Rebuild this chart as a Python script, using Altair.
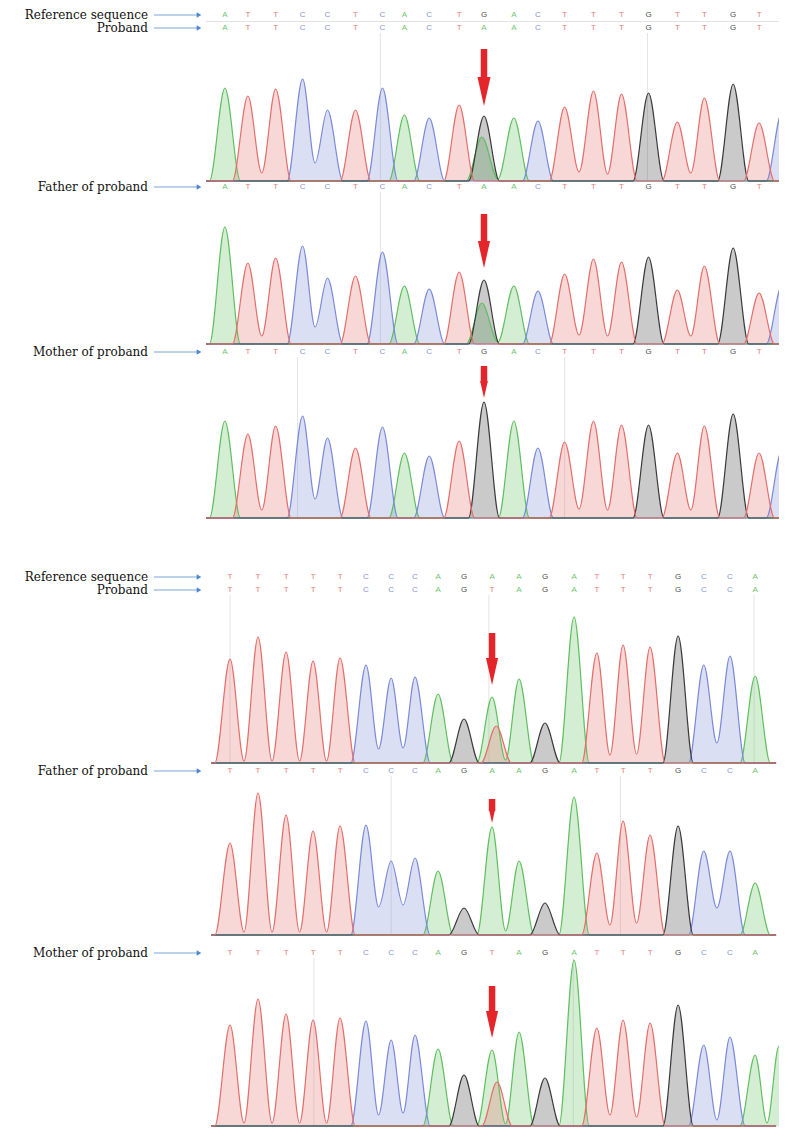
import altair as alt
import pandas as pd

# ---------------- data ----------------
BASES = ["A", "C", "G", "T"]

# called sequences (letter rows)
TOP_REF = list("ATTCCTCACTGACTTTGTTGT")
TOP_PROBAND = list("ATTCCTCACTAACTTTGTTGT")
TOP_FATHER = list("ATTCCTCACTAACTTTGTTGT")
TOP_MOTHER = list("ATTCCTCACTGACTTTGTTGT")
BOT_REF = list("TTTTTCCCAGAAGATTTGCCA")
BOT_PROBAND = list("TTTTTCCCAGTAGATTTGCCA")
BOT_FATHER = list("TTTTTCCCAGAAGATTTGCCA")
BOT_MOTHER = list("TTTTTCCCAGTAGATTTGCCA")

# dye of the main peak at each position
TOP_TRACE = list("ATTCCTCACTGACTTTGTTGT")
BOT_TRACE = list("TTTTTCCCAGAAGATTTGCCA")

# peak locations (scan units, one unit ~ one base)
TOP_POS = [1.0, 1.86, 2.9, 3.91, 4.84, 5.89, 6.9, 7.72, 8.65, 9.77, 10.7,
           11.82, 12.72, 13.72, 14.8, 15.85, 16.86, 17.94, 18.95, 20.03, 21.0]
BOT_POS = [1.0, 2.07, 3.14, 4.17, 5.2, 6.19, 7.15, 8.06, 8.94, 9.93, 11.0,
           12.03, 13.02, 14.13, 15.0, 16.0, 17.03, 18.1, 19.08, 20.08, 21.04]

# main peak heights
P1_H = [93, 85, 92, 102, 71, 71, 93, 66, 63, 76, 65, 63, 60, 74, 90, 87, 88, 59, 83, 97, 58]
P2_H = [117, 81, 86, 98, 66, 68, 92, 58, 55, 72, 64, 58, 53, 70, 85, 82, 87, 54, 78, 96, 51]
P3_H = [97, 84, 92, 102, 80, 70, 91, 65, 62, 77, 116, 97, 70, 76, 97, 93, 93, 65, 92, 104, 65]
P4_H = [104, 126, 111, 102, 105, 98, 85, 86, 69, 44, 66, 84, 40, 146, 110, 118, 116, 127, 98, 107, 87]
P5_H = [92, 142, 120, 104, 109, 110, 74, 77, 64, 27, 108, 74, 32, 138, 82, 114, 100, 109, 84, 84, 52]
P6_H = [101, 127, 112, 106, 108, 105, 86, 91, 77, 51, 76, 94, 48, 166, 98, 106, 103, 121, 81, 89, 71]

# secondary / edge peaks: (dye, location, height)
P1_EXTRA = [("A", 10.62, 44), ("C", 21.85, 68)]
P2_EXTRA = [("A", 10.62, 41), ("C", 21.85, 58)]
P3_EXTRA = [("C", 21.85, 67)]
P4_EXTRA = [("T", 11.16, 37)]
P5_EXTRA = []
P6_EXTRA = [("T", 11.19, 44), ("A", 21.95, 80)]

# valley height after peak i (1-based) before the next peak of the same dye
P1_V = {2: 8, 4: 18, 14: 9, 15: 7, 18: 8}
P2_V = {2: 8, 4: 17, 14: 9, 15: 8, 18: 8}
P3_V = {2: 8, 4: 19, 14: 9, 15: 8, 18: 8}
P4_V = {1: 2, 2: 2, 3: 2, 4: 2, 6: 14, 7: 15, 11: 3, 15: 8, 16: 9, 19: 20}
P5_V = {1: 3, 2: 3, 3: 3, 4: 3, 6: 28, 7: 30, 11: 4, 15: 10, 16: 12, 19: 27}
P6_V = {1: 3, 2: 3, 3: 3, 4: 3, 6: 11, 7: 13, 11: 2, 15: 11, 16: 9, 19: 6, 21: 3}

# red arrows over the variant (heights above baseline: top and tip)
ARROW_TOP = [132, 130, 152, 130, 136, 140]
ARROW_TIP = [75, 76, 120, 78, 112, 88]

# faint cursor lines (scan units)
CURSORS = [[6.82, 16.82], [6.82], [3.72, 13.72], [1.0, 10.88, 21.0], [7.15, 15.9], [4.2, 14.1]]

LABELS = ["Reference sequence", "Proband", "Father of proband", "Mother of proband"]

# ---------------- layout / style ----------------
COLORS = ["#5fbf5f", "#7a8ad8", "#3a3a3a", "#e46e6a"]
CS = alt.Scale(domain=BASES, range=COLORS)
YS = alt.Scale(domain=[8, 1129], reverse=True, nice=False, zero=False)
W, H = 573, 1121
TOP_DOMAIN = [0.292, 21.745]
BOT_DOMAIN = [0.084, 21.95]
BOT_START, BOT_END = 0.275, 21.84
HALF = 0.58
TOP_ROWS_Y = [15, 28, 187, 352]
BOT_ROWS_Y = [577, 590, 771, 953]
TOP_BASE_Y = [181, 344, 518]
BOT_BASE_Y = [763, 935, 1126]
HEAD_LEN = [29, 27, 17, 27, 14, 27]

PANELS = [
    dict(name="P1", trace=TOP_TRACE, pos=TOP_POS, h=P1_H, extra=P1_EXTRA, v=P1_V, base=TOP_BASE_Y[0], start=TOP_DOMAIN[0], end=TOP_DOMAIN[1], top=TOP_ROWS_Y[1]),
    dict(name="P2", trace=TOP_TRACE, pos=TOP_POS, h=P2_H, extra=P2_EXTRA, v=P2_V, base=TOP_BASE_Y[1], start=TOP_DOMAIN[0], end=TOP_DOMAIN[1], top=TOP_ROWS_Y[2]),
    dict(name="P3", trace=TOP_TRACE, pos=TOP_POS, h=P3_H, extra=P3_EXTRA, v=P3_V, base=TOP_BASE_Y[2], start=TOP_DOMAIN[0], end=TOP_DOMAIN[1], top=TOP_ROWS_Y[3]),
    dict(name="P4", trace=BOT_TRACE, pos=BOT_POS, h=P4_H, extra=P4_EXTRA, v=P4_V, base=BOT_BASE_Y[0], start=BOT_START, end=BOT_END, top=BOT_ROWS_Y[1]),
    dict(name="P5", trace=BOT_TRACE, pos=BOT_POS, h=P5_H, extra=P5_EXTRA, v=P5_V, base=BOT_BASE_Y[1], start=BOT_START, end=BOT_END, top=BOT_ROWS_Y[2]),
    dict(name="P6", trace=BOT_TRACE, pos=BOT_POS, h=P6_H, extra=P6_EXTRA, v=P6_V, base=BOT_BASE_Y[2], start=BOT_START, end=BOT_END, top=BOT_ROWS_Y[3]),
]


def build_trace(pn):
    rows = []
    for b in BASES:
        pk = [(p, h, i + 1) for i, (p, bb, h) in enumerate(zip(pn["pos"], pn["trace"], pn["h"])) if bb == b]
        pk += [(p, h, None) for bb, p, h in pn["extra"] if bb == b]
        pk.sort(key=lambda t: t[0])
        pts = [(pn["start"], 0)]
        prev = None
        for p, h, k in pk:
            if prev is not None and p - prev[0] <= 1.3:
                pts.append(((prev[0] + p) / 2, pn["v"].get(prev[2], 2)))
            else:
                if prev is not None:
                    pts.append((prev[0] + HALF, 0))
                if p - HALF > pts[-1][0]:
                    pts.append((p - HALF, 0))
            pts.append((p, h))
            prev = (p, h, k)
        if prev is not None:
            pts.append((prev[0] + HALF, 0))
        if pts[-1][0] < pn["end"]:
            pts.append((pn["end"], 0))
        for x, v in pts:
            rows.append(dict(panel=pn["name"], base=b, x=x, y=pn["base"] - v, y0=pn["base"]))
    return rows


def letters_df(seqs, pos, ys):
    rows = []
    for seq, y in zip(seqs, ys):
        for p, c in zip(pos, seq):
            rows.append(dict(x=p, y=y, letter=c, base=c))
    return pd.DataFrame(rows)


def arrows_df(idx, pos):
    rows = []
    for i in idx:
        pn = PANELS[i]
        tip = pn["base"] - ARROW_TIP[i]
        hl = HEAD_LEN[i]
        rows.append(dict(x=pos[10], top=pn["base"] - ARROW_TOP[i], neck=tip - hl + 2,
                         headc=tip - hl / 2, hsize=hl * hl))
    return pd.DataFrame(rows)


def cursors_df(idx):
    rows = []
    for i in idx:
        pn = PANELS[i]
        for c in CURSORS[i]:
            rows.append(dict(x=c, y1=pn["top"] + 5, y2=pn["base"]))
    return pd.DataFrame(rows)


def group(idx, pos, domain, seqs, rows_y, sep_y=None):
    X = alt.Scale(domain=domain, nice=False, zero=False)
    trace_df = pd.DataFrame([r for i in idx for r in build_trace(PANELS[i])])
    lab_df = pd.DataFrame(dict(label=LABELS, y=rows_y))
    layers = []
    layers.append(alt.Chart(cursors_df(idx)).mark_rule(color="#e4e4e4", strokeWidth=1).encode(
        x=alt.X("x:Q", scale=X, axis=None),
        y=alt.Y("y1:Q", scale=YS, axis=None), y2="y2:Q"))
    if sep_y is not None:
        layers.append(alt.Chart(pd.DataFrame(dict(y=[sep_y]))).mark_rule(color="#e2e2e2", strokeWidth=1).encode(
            x=alt.value(0), x2=alt.value(W), y=alt.Y("y:Q", scale=YS, axis=None)))
    layers.append(alt.Chart(trace_df).mark_area(
        interpolate="monotone", fillOpacity=0.27, clip=True,
        line=alt.OverlayMarkDef(strokeWidth=1.2)).encode(
        x=alt.X("x:Q", scale=X, axis=None),
        y=alt.Y("y:Q", scale=YS, axis=None, stack=None),
        y2="y0:Q",
        color=alt.Color("base:N", scale=CS, legend=None),
        detail="panel:N"))
    layers.append(alt.Chart(letters_df(seqs, pos, rows_y)).mark_text(
        font="Liberation Sans", fontSize=8, baseline="middle", opacity=0.9).encode(
        x=alt.X("x:Q", scale=X, axis=None),
        y=alt.Y("y:Q", scale=YS, axis=None),
        text="letter:N",
        color=alt.Color("base:N", scale=CS, legend=None)))
    layers.append(alt.Chart(lab_df).mark_text(
        align="right", baseline="middle", font="DejaVu Serif", fontSize=12, color="#111111").encode(
        x=alt.value(-58), y=alt.Y("y:Q", scale=YS, axis=None), text="label:N"))
    layers.append(alt.Chart(lab_df).mark_rule(color="#7aa3da", strokeWidth=1).encode(
        x=alt.value(-52), x2=alt.value(-8), y=alt.Y("y:Q", scale=YS, axis=None)))
    layers.append(alt.Chart(lab_df).mark_point(shape="triangle-right", filled=True, size=28,
                                               color="#4f86cf", opacity=1).encode(
        x=alt.value(-7), y=alt.Y("y:Q", scale=YS, axis=None)))
    adf = arrows_df(idx, pos)
    layers.append(alt.Chart(adf).mark_rule(color="#e4262b", strokeWidth=6.5).encode(
        x=alt.X("x:Q", scale=X, axis=None),
        y=alt.Y("top:Q", scale=YS, axis=None), y2="neck:Q"))
    layers.append(alt.Chart(adf).mark_point(shape="M-0.45,-1L0.45,-1L0,1Z", filled=True,
                                            color="#e4262b", opacity=1, strokeWidth=0).encode(
        x=alt.X("x:Q", scale=X, axis=None),
        y=alt.Y("headc:Q", scale=YS, axis=None),
        size=alt.Size("hsize:Q", scale=None, legend=None)))
    return alt.layer(*layers)


top = group([0, 1, 2], TOP_POS, TOP_DOMAIN, [TOP_REF, TOP_PROBAND, TOP_FATHER, TOP_MOTHER], TOP_ROWS_Y, sep_y=21.5)
bottom = group([3, 4, 5], BOT_POS, BOT_DOMAIN, [BOT_REF, BOT_PROBAND, BOT_FATHER, BOT_MOTHER], BOT_ROWS_Y)

chart = alt.layer(top, bottom).resolve_scale(x="independent").properties(
    width=W, height=H,
    autosize=alt.AutoSizeParams(type="none"),
    padding={"left": 198, "top": 0, "right": 0, "bottom": 2},
).configure_view(stroke=None)

chart.save("out.html", embed_options={"renderer": "svg", "actions": False})
